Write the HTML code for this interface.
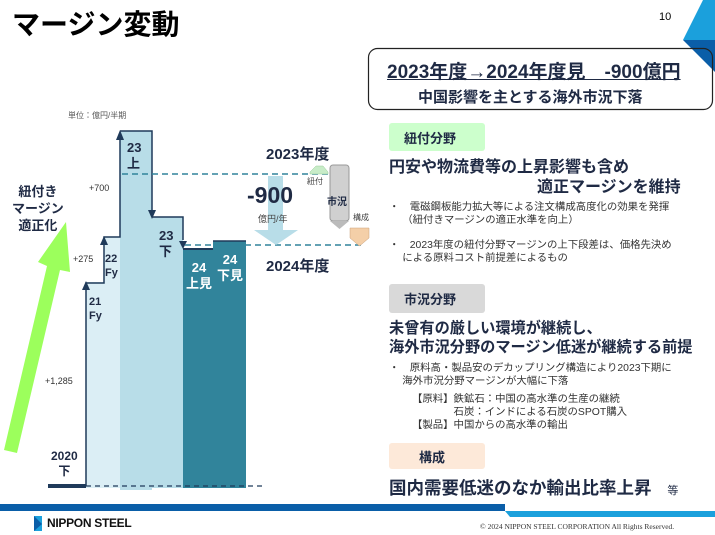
<!DOCTYPE html>
<html><head><meta charset="utf-8"><style>
body{margin:0;width:715px;height:535px;position:relative;overflow:hidden;background:#fff;font-family:"Liberation Sans","Noto Sans CJK JP",sans-serif;color:#1f2a44}
.a{position:absolute;white-space:nowrap}
.b{font-weight:bold}
</style></head><body>
<div class="a b" style="left:12px;top:3px;font-size:28px;color:#000">マージン変動</div>
<div class="a" style="left:659px;top:11px;font-size:11px;color:#000">10</div>
<svg class="a" style="left:0;top:0" width="715" height="535">
<polygon points="703,0 715,0 715,40 683,40" fill="#1ba0dc"/>
<polygon points="683,40 715,40 715,72" fill="#0a5ea8"/>
<rect x="0" y="504" width="505" height="7" fill="#0a5ea8"/>
<polygon points="505,511 715,511 715,517 510,517" fill="#1ba0dc"/>
<polygon points="34,516 42,516 42,531 34,531" fill="#1ba0dc"/>
<polygon points="34,516 42,524 34,531" fill="#0a5ea8"/>
<!-- green arrow -->
<polygon points="4,450 17,453 60,270 70,272 66,222 38,262 47,266" fill="#9cff5c"/>
<!-- bars -->
<rect x="86" y="282" width="34" height="206" fill="#dbeef5"/>
<rect x="104" y="237" width="16" height="45" fill="#dbeef5"/>
<rect x="120" y="131" width="32" height="359" fill="#b8dde8"/>
<rect x="152" y="217" width="31" height="271" fill="#b8dde8"/>
<rect x="183" y="249" width="30" height="239" fill="#31849b"/>
<rect x="213" y="241" width="33" height="247" fill="#31849b"/>
<line x1="183" y1="249" x2="213" y2="249" stroke="#1f3a5a" stroke-width="2"/>
<line x1="213" y1="241" x2="246" y2="241" stroke="#1f3a5a" stroke-width="1.5"/>
<rect x="48" y="484" width="38" height="4" fill="#1f3a5a"/>
<line x1="86" y1="486" x2="265" y2="486" stroke="#1f3a5a" stroke-dasharray="5,4" stroke-width="1.2"/>
<g stroke="#1f3a5a" stroke-width="1.5" fill="none">
<polyline points="86,486 86,283 104,283 104,240"/>
<polyline points="104,240 104,237 120,237 120,133"/>
<polyline points="120,131 152,131 152,210"/>
<polyline points="152,217 183,217 183,240"/>
</g>
<g fill="#1f3a5a">
<polygon points="82,290 90,290 86,281"/>
<polygon points="100,245 108,245 104,236"/>
<polygon points="116,140 124,140 120,130"/>
<polygon points="148,210 156,210 152,219"/>
<polygon points="179,241 187,241 183,249"/>
</g>
<line x1="122" y1="174" x2="328" y2="174" stroke="#31849b" stroke-width="1.5" stroke-dasharray="6,4"/>
<line x1="185" y1="245" x2="362" y2="245" stroke="#31849b" stroke-width="1.5" stroke-dasharray="6,4"/>
<polygon points="268,176 283,176 283,230 298,230 276,245 254,230 268,230" fill="#b8dde8"/>
<polygon points="310,172 316,166 323,166 328,172 328,174 310,174" fill="#c8ecc8" stroke="#9c9" stroke-width=".5"/>
<rect x="330" y="165" width="19" height="56" rx="3" fill="#d0d0d0" stroke="#999"/>
<polygon points="330,221 349,221 339.5,229" fill="#bbb"/>
<polygon points="350,228 369,228 369,238 359.5,246 350,238" fill="#f4cfa8" stroke="#c9a07a" stroke-width=".5"/>
<rect x="368.5" y="48.5" width="344" height="61" rx="9" fill="none" stroke="#222" stroke-width="1.2"/>
<rect x="389" y="123" width="96" height="28" rx="3" fill="#ccffcc"/>
<rect x="389" y="284" width="96" height="29" rx="3" fill="#d9d9d9"/>
<rect x="389" y="443" width="96" height="26" rx="3" fill="#fde9d9"/>
</svg>
<div class="a" style="left:68px;top:110px;font-size:8px;color:#555">単位：億円/半期</div>
<div class="a b" style="left:12px;top:183px;font-size:13px;line-height:17px;text-align:center">紐付き<br>マージン<br>適正化</div>
<div class="a" style="left:89px;top:183px;font-size:9px;color:#333">+700</div>
<div class="a" style="left:73px;top:254px;font-size:9px;color:#333">+275</div>
<div class="a" style="left:45px;top:376px;font-size:9px;color:#333">+1,285</div>
<div class="a b" style="left:51px;top:449px;font-size:12px;line-height:15px;text-align:center">2020<br>下</div>
<div class="a b" style="left:89px;top:295px;font-size:11px;line-height:14px">21<br>Fy</div>
<div class="a b" style="left:105px;top:252px;font-size:11px;line-height:14px">22<br>Fy</div>
<div class="a b" style="left:127px;top:140px;font-size:13px;line-height:16px">23<br>上</div>
<div class="a b" style="left:159px;top:228px;font-size:13px;line-height:16px">23<br>下</div>
<div class="a b" style="left:186px;top:260px;font-size:13px;line-height:16px;color:#fff;text-align:center">24<br>上見</div>
<div class="a b" style="left:217px;top:252px;font-size:13px;line-height:16px;color:#fff;text-align:center">24<br>下見</div>
<div class="a b" style="left:266px;top:143px;font-size:15px">2023年度</div>
<div class="a b" style="left:266px;top:255px;font-size:15px">2024年度</div>
<div class="a b" style="left:247px;top:182px;font-size:23px">-900</div>
<div class="a" style="left:258px;top:212px;font-size:9px;color:#444">億円/年</div>
<div class="a" style="left:307px;top:176px;font-size:8px;color:#444">紐付</div>
<div class="a b" style="left:327px;top:193px;font-size:10px">市況</div>
<div class="a" style="left:353px;top:212px;font-size:8px;color:#444">構成</div>
<div class="a b" style="left:387px;top:57px;font-size:19px;text-decoration:underline">2023年度→2024年度見　-900億円</div>
<div class="a b" style="left:418px;top:86px;font-size:15px">中国影響を主とする海外市況下落</div>
<div class="a b" style="left:404px;top:128px;font-size:13px">紐付分野</div>
<div class="a b" style="left:389px;top:158px;font-size:16px;line-height:20px">円安や物流費等の上昇影響も含め<br><span style="padding-left:148px">適正マージンを維持</span></div>
<div class="a" style="left:389px;top:201px;font-size:10.4px;line-height:13px;color:#333">・　電磁鋼板能力拡大等による注文構成高度化の効果を発揮<br>　 （紐付きマージンの適正水準を向上）</div>
<div class="a" style="left:389px;top:239px;font-size:10.4px;line-height:13px;color:#333">・　2023年度の紐付分野マージンの上下段差は、価格先決め<br>　 による原料コスト前提差によるもの</div>
<div class="a b" style="left:404px;top:289px;font-size:13px">市況分野</div>
<div class="a b" style="left:389px;top:319px;font-size:15.2px;line-height:19px">未曾有の厳しい環境が継続し、<br>海外市況分野のマージン低迷が継続する前提</div>
<div class="a" style="left:389px;top:362px;font-size:10.4px;line-height:13px;color:#333">・　原料高・製品安のデカップリング構造により2023下期に<br>　 海外市況分野マージンが大幅に下落</div>
<div class="a" style="left:412px;top:393px;font-size:10.4px;line-height:13px;color:#333">【原料】鉄鉱石：中国の高水準の生産の継続<br>　　　　石炭：インドによる石炭のSPOT購入<br>【製品】中国からの高水準の輸出</div>
<div class="a b" style="left:419px;top:447px;font-size:13px">構成</div>
<div class="a b" style="left:389px;top:475px;font-size:17.5px">国内需要低迷のなか輸出比率上昇 <span style="font-weight:normal;font-size:11px">　等</span></div>
<div class="a b" style="left:47px;top:516px;font-size:12px;color:#111;letter-spacing:-.3px">NIPPON STEEL</div>
<div class="a" style="left:480px;top:522px;font-size:7.5px;color:#333;font-family:'Liberation Serif',serif">© 2024 NIPPON STEEL CORPORATION All Rights Reserved.</div>
</body></html>
